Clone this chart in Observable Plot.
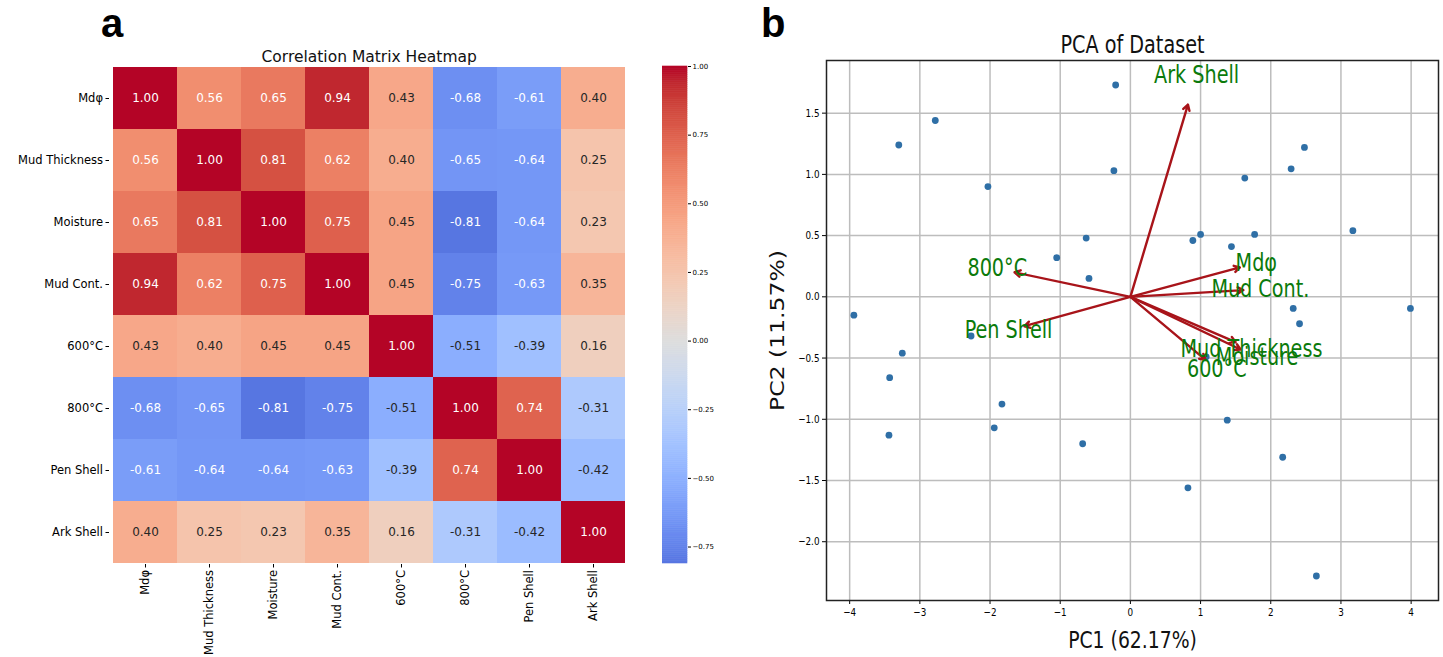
<!DOCTYPE html>
<html>
<head>
<meta charset="utf-8">
<script src="https://cdn.jsdelivr.net/npm/d3@7"></script>
<script src="https://cdn.jsdelivr.net/npm/@observablehq/plot@0.6"></script>
<style>
  body { margin: 0; background: #fff; }
  #root { position: relative; width: 1443px; height: 657px; overflow: hidden; background: #fff; }
  .pl { position: absolute; top: 0; }
  .tag { position: absolute; top: 3px; font-family: "Liberation Sans", Arial, sans-serif; font-weight: bold; font-size: 40px; line-height: 1; color: #000; }
</style>
</head>
<body>
<div id="root">
  <div class="tag" style="left:101px">a</div>
  <div class="tag" style="left:761px">b</div>
</div>
<script>
// ---------- Panel a: correlation matrix ----------
const variables = ["Mdφ", "Mud Thickness", "Moisture", "Mud Cont.", "600°C", "800°C", "Pen Shell", "Ark Shell"];
const corrMdp          = [ 1.00,  0.56,  0.65,  0.94,  0.43, -0.68, -0.61,  0.40];
const corrMudThickness = [ 0.56,  1.00,  0.81,  0.62,  0.40, -0.65, -0.64,  0.25];
const corrMoisture     = [ 0.65,  0.81,  1.00,  0.75,  0.45, -0.81, -0.64,  0.23];
const corrMudCont      = [ 0.94,  0.62,  0.75,  1.00,  0.45, -0.75, -0.63,  0.35];
const corr600          = [ 0.43,  0.40,  0.45,  0.45,  1.00, -0.51, -0.39,  0.16];
const corr800          = [-0.68, -0.65, -0.81, -0.75, -0.51,  1.00,  0.74, -0.31];
const corrPenShell     = [-0.61, -0.64, -0.64, -0.63, -0.39,  0.74,  1.00, -0.42];
const corrArkShell     = [ 0.40,  0.25,  0.23,  0.35,  0.16, -0.31, -0.42,  1.00];
const colorbarTicks = [-0.75, -0.50, -0.25, 0.00, 0.25, 0.50, 0.75, 1.00];
const colorbarRange = [-0.81, 1.00];   // data min / max
const colorCenterRange = [-1.00, 1.00]; // colormap centred on 0

// ---------- Panel b: PCA biplot ----------
const pc1Scores = [-0.21, -2.78, -3.30, 2.48, 2.29, -0.235, 1.63, -2.03, 3.17, 1.00, 1.77, -0.63, 0.89, 1.44, -1.05, -0.59,
                   -3.94, 2.32, 3.99, 2.41, -2.27, -3.25, 1.08, -3.43, -1.83, 1.38, -1.94, -3.44, -0.68, 2.17, 0.82, 2.65];
const pc2Scores = [1.73, 1.44, 1.24, 1.22, 1.045, 1.03, 0.97, 0.90, 0.54, 0.51, 0.51, 0.48, 0.46, 0.41, 0.32, 0.15,
                   -0.15, -0.095, -0.095, -0.22, -0.32, -0.46, -0.49, -0.66, -0.876, -1.007, -1.07, -1.13, -1.20, -1.31, -1.56, -2.28];
const loadingPC1 = [1.56, 1.50, 1.57, 1.61, 1.07, -1.65, -1.51, 0.82];
const loadingPC2 = [0.24, -0.37, -0.43, 0.055, -0.515, 0.20, -0.24, 1.57];
const pcaXTicks = [-4, -3, -2, -1, 0, 1, 2, 3, 4];
const pcaYTicks = [-2.0, -1.5, -1.0, -0.5, 0.0, 0.5, 1.0, 1.5];

// coolwarm colormap (Moreland)
const coolwarmStops = [
  [59,76,192],[68,90,204],[77,104,215],[87,117,225],[98,130,234],[108,142,241],[119,154,247],[130,165,251],
  [141,176,254],[152,185,255],[163,194,255],[174,201,253],[184,208,249],[194,213,244],[204,217,238],[213,219,230],
  [221,221,221],[229,216,209],[236,211,197],[241,204,184],[245,196,172],[247,187,160],[247,177,148],[247,166,135],
  [244,154,123],[241,141,111],[236,127,99],[229,112,88],[222,96,77],[213,80,66],[203,62,56],[192,40,47],[180,4,38]
].map(([r,g,b]) => `rgb(${r},${g},${b})`);
const coolwarm = d3.piecewise(d3.interpolateRgb, coolwarmStops);
const colorScale = {type: "linear", domain: colorCenterRange, interpolate: (t) => coolwarm(t)};

// seaborn-style annotation colour: white on dark cells
function luminance(c) {
  const {r, g, b} = d3.rgb(c);
  const f = (v) => { v /= 255; return v <= 0.03928 ? v / 12.92 : Math.pow((v + 0.055) / 1.055, 2.4); };
  return 0.2126 * f(r) + 0.7152 * f(g) + 0.0722 * f(b);
}
const tOf = (v) => (v - colorCenterRange[0]) / (colorCenterRange[1] - colorCenterRange[0]);
const isDark = (v) => luminance(coolwarm(tOf(v))) <= 0.408;

const matrix = [corrMdp, corrMudThickness, corrMoisture, corrMudCont, corr600, corr800, corrPenShell, corrArkShell];
const cells = variables.flatMap((r, i) => variables.map((c, j) => ({row: r, col: c, v: matrix[i][j]})));

const root = document.getElementById("root");

const heat = Plot.plot({
  width: 650, height: 657,
  marginTop: 66, marginBottom: 93, marginLeft: 109, marginRight: 650 - 628.3,
  style: {fontFamily: "DejaVu Sans, sans-serif", fontSize: "11.5px", color: "#000", background: "transparent"},
  x: {domain: variables, padding: 0, tickRotate: -90, tickSize: 3.5, tickPadding: 2, label: null},
  y: {domain: variables, padding: 0, tickSize: 3.5, tickPadding: 3, label: null},
  color: colorScale,
  marks: [
    Plot.cell(cells, {x: "col", y: "row", fill: "v", inset: 0}),
    Plot.text(cells.filter(d => isDark(d.v)), {x: "col", y: "row", text: d => d.v.toFixed(2), fill: "white", fontSize: 12}),
    Plot.text(cells.filter(d => !isDark(d.v)), {x: "col", y: "row", text: d => d.v.toFixed(2), fill: "#262626", fontSize: 12}),
    Plot.text(["Correlation Matrix Heatmap"], {frameAnchor: "top", lineAnchor: "middle", dy: -9, fontSize: 15.5, fill: "#111"})
  ]
});
heat.classList.add("pl");
heat.style.left = "0px";
root.appendChild(heat);

// colorbar
const nBins = 240;
const bins = d3.range(nBins).map(i => {
  const y1 = colorbarRange[0] + (colorbarRange[1] - colorbarRange[0]) * i / nBins;
  const y2 = colorbarRange[0] + (colorbarRange[1] - colorbarRange[0]) * (i + 1) / nBins;
  return {y1, y2, m: (y1 + y2) / 2};
});
const cbar = Plot.plot({
  width: 70, height: 657,
  marginTop: 66, marginBottom: 94, marginLeft: 0, marginRight: 45,
  style: {fontFamily: "DejaVu Sans, sans-serif", fontSize: "7px", color: "#000", background: "transparent"},
  x: {domain: [0, 1], axis: null},
  y: {domain: colorbarRange, axis: "right", ticks: colorbarTicks, tickFormat: ".2f", tickSize: 3, tickPadding: 2, label: null},
  color: colorScale,
  marks: [
    Plot.rect(bins, {x1: 0, x2: 1, y1: "y1", y2: "y2", fill: "m", stroke: "m", strokeWidth: 0.6})
  ]
});
cbar.classList.add("pl");
cbar.style.left = "661.7px";
root.appendChild(cbar);

// PCA
const scores = pc1Scores.map((x, i) => ({x, y: pc2Scores[i]}));
const loadings = variables.map((name, i) => ({name, x: loadingPC1[i], y: loadingPC2[i]}));
const pca = Plot.plot({
  width: 703, height: 657,
  marginTop: 60, marginBottom: 57, marginLeft: 86, marginRight: 5,
  style: {fontFamily: "DejaVu Sans, sans-serif", fontSize: "11px", color: "#000", background: "transparent"},
  x: {domain: [-4.33, 4.39], ticks: pcaXTicks, tickFormat: d3.format(".0f"), tickSize: 4, tickPadding: 4, label: null},
  y: {domain: [-2.48, 1.93], ticks: pcaYTicks, tickFormat: d3.format(".1f"), tickSize: 4, tickPadding: 3, label: null},
  marks: [
    Plot.ruleX(pcaXTicks, {stroke: "#bdbdbd", strokeWidth: 1.5}),
    Plot.ruleY(pcaYTicks, {stroke: "#bdbdbd", strokeWidth: 1.5}),
    Plot.dot(scores, {x: "x", y: "y", r: 3.4, fill: "#2f6fa6", stroke: "none"}),
    Plot.arrow(loadings, {x1: 0, y1: 0, x2: "x", y2: "y", stroke: "#a8141a", strokeWidth: 2.4, headLength: 4}),
    Plot.text(loadings, {x: d => d.x * 1.15, y: d => d.y * 1.15, text: "name", fill: "#0b7a0b", fontSize: 24}),
    Plot.frame({stroke: "#222", strokeWidth: 1.5}),
    Plot.text(["PCA of Dataset"], {frameAnchor: "top", lineAnchor: "middle", dy: -15, fontSize: 24, fill: "#111"}),
    Plot.text(["PC1 (62.17%)"], {frameAnchor: "bottom", lineAnchor: "middle", dy: 40, fontSize: 23.5, fill: "#111"}),
    Plot.text(["PC2 (11.57%)"], {frameAnchor: "left", textAnchor: "middle", lineAnchor: "middle", dx: -49, rotate: -90, fontSize: 23.5, fill: "#111"})
  ]
});
pca.classList.add("pl");
pca.style.left = "740px";
root.appendChild(pca);

// the source panel b is horizontally squeezed: compress its texts the same way
function squeeze(svg, k) {
  svg.querySelectorAll("text").forEach(t => {
    const tr = t.getAttribute("transform") || "";
    const s = /rotate\(\s*-?90/.test(tr) ? `scale(1,${k})` : `scale(${k},1)`;
    t.setAttribute("transform", (tr + " " + s).trim());
  });
}
squeeze(pca, 0.8);
</script>
</body>
</html>
